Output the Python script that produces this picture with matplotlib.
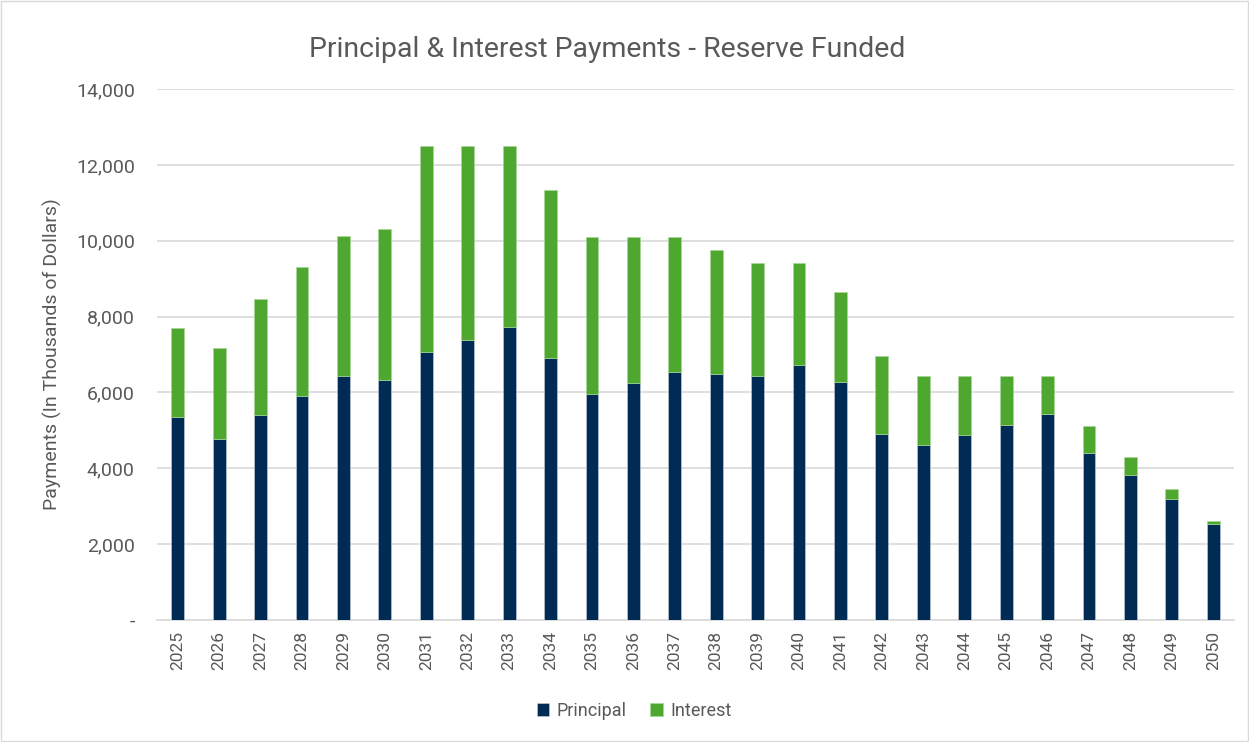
import matplotlib
matplotlib.use('Agg')
import matplotlib.pyplot as plt
import matplotlib.ticker as mticker
import numpy as np

years = [str(y) for y in range(2025, 2051)]
principal = [5365, 4773, 5412, 5919, 6446, 6323, 7066, 7395, 7733, 6906,
             5966, 6239, 6530, 6474, 6427, 6737, 6276, 4895, 4604, 4867,
             5140, 5421, 4416, 3815, 3185, 2528]
total = [7695, 7178, 8475, 9302, 10129, 10298, 12487, 12487, 12487, 11341,
         10091, 10091, 10091, 9753, 9415, 9415, 8644, 6962, 6427, 6427,
         6427, 6427, 5111, 4294, 3467, 2621]
interest = [t - p for t, p in zip(total, principal)]

navy = '#002B55'
green = '#4EA72E'
gray = '#595959'

plt.rcParams['font.family'] = ['Roboto', 'DejaVu Sans']

fig = plt.figure(figsize=(12.49, 7.42), dpi=100)
ax = fig.add_axes([0.1257, 0.1644, 0.8623, 0.7156])

x = np.arange(len(years))
ax.bar(x, principal, width=0.31, color=navy, edgecolor='#c8d0dc', linewidth=0.4, label='Principal', zorder=3)
ax.bar(x, interest, width=0.31, bottom=principal, color=green, edgecolor='#a8d898', linewidth=0.4, label='Interest', zorder=3)

ax.set_xlim(-0.5, len(years) - 0.5)
ax.set_ylim(0, 14000)
ax.set_yticks(range(0, 14001, 2000))
ax.yaxis.set_major_formatter(mticker.FuncFormatter(lambda v, p: '-' if v == 0 else '{:,.0f}'.format(v)))
ax.set_xticks(x)
ax.set_xticklabels(years, rotation=90)
ax.tick_params(axis='both', length=0, colors=gray)
ax.tick_params(axis='x', pad=8, labelsize=12.5)
ax.tick_params(axis='y', pad=16, labelsize=14)
ax.grid(axis='y', color='#d9d9d9', linewidth=1.2, zorder=0)
for s in ['top', 'right', 'left']:
    ax.spines[s].set_visible(False)
ax.spines['bottom'].set_color('#d9d9d9')
ax.spines['bottom'].set_linewidth(1.2)

ax.set_ylabel('Payments (In Thousands of Dollars)', fontsize=14, color=gray, labelpad=10)
fig.text(0.486, 0.933, 'Principal & Interest Payments - Reserve Funded', ha='center', va='center',
         fontsize=20.5, color=gray)

ax.legend(loc='center', bbox_to_anchor=(0.443, -0.171), ncol=2, frameon=False, fontsize=13,
          labelcolor=gray, handlelength=0.7, handleheight=0.7, handletextpad=0.4, columnspacing=1.3)

fig.patches.append(plt.Rectangle((0.001, 0.001), 0.998, 0.998, transform=fig.transFigure,
                                 fill=False, edgecolor='#d9d9d9', linewidth=1))

plt.savefig('out.png', dpi=100)
